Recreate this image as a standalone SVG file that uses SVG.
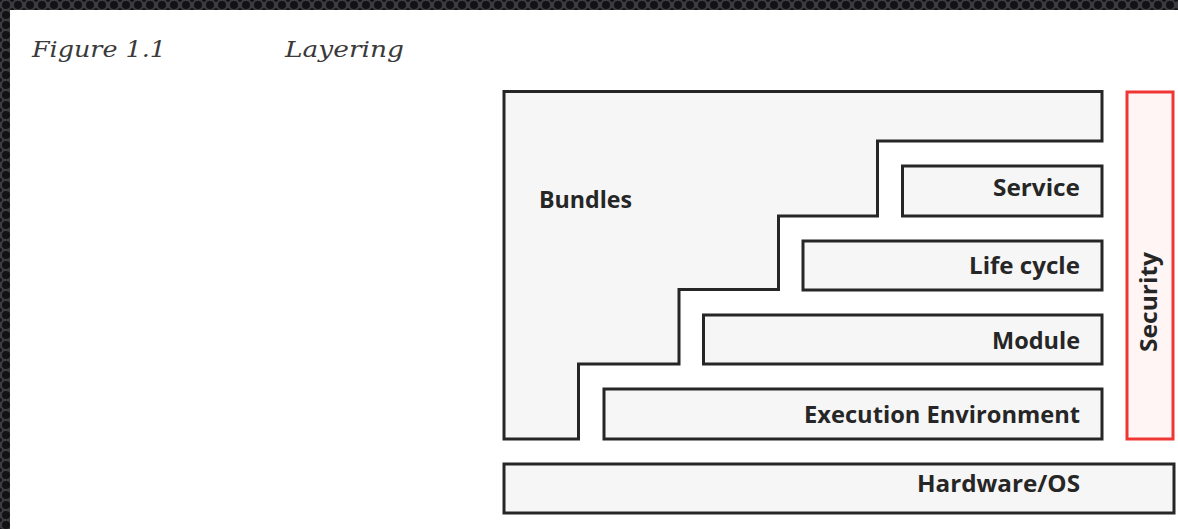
<svg xmlns="http://www.w3.org/2000/svg" width="1178" height="529" viewBox="0 0 1178 529">
  <defs>
    <pattern id="tex" x="0" y="0" width="12" height="10" patternUnits="userSpaceOnUse">
      <rect width="12" height="10" fill="#3c3c40"/>
      <circle cx="6" cy="5" r="4" fill="#121214"/>
      <circle cx="0" cy="0" r="2" fill="#121214"/>
      <circle cx="12" cy="0" r="2" fill="#121214"/>
      <circle cx="0" cy="10" r="2" fill="#121214"/>
      <circle cx="12" cy="10" r="2" fill="#121214"/>
    </pattern>
  </defs>
  <style>
    .layer { fill: #f6f6f6; stroke: #262626; stroke-width: 3; stroke-linejoin: miter; }
    .sec { fill: #fff5f5; stroke: #f03535; stroke-width: 3; }
    .lbl { font-family: "Open Sans", "Liberation Sans", sans-serif; font-weight: bold; font-size: 24px; fill: #262626; }
    .r { text-anchor: end; }
    .title { font-family: "DejaVu Serif", "Liberation Serif", serif; font-style: italic; font-size: 23px; fill: #3a3a3a; }
  </style>
  <rect width="1178" height="529" fill="#ffffff"/>
  <rect x="0" y="0" width="1178" height="10" fill="url(#tex)"/>
  <rect x="0" y="0" width="10" height="529" fill="url(#tex)"/>

  <g id="title">
    <text class="title" x="32" y="57" textLength="134" lengthAdjust="spacingAndGlyphs">Figure 1.1</text>
    <text class="title" x="285" y="57" textLength="119" lengthAdjust="spacingAndGlyphs">Layering</text>
  </g>

  <g id="bundles">
    <path class="layer" d="M504,91.5 H1102 V141 H877.5 V216 H778.5 V289.5 H679 V364 H578.5 V439 H504 Z"/>
    <text class="lbl" x="539" y="208" textLength="93" lengthAdjust="spacingAndGlyphs">Bundles</text>
  </g>

  <g id="service">
    <rect class="layer" x="902.5" y="166" width="199.5" height="50"/>
    <text class="lbl r" x="1080" y="196" textLength="87" lengthAdjust="spacingAndGlyphs">Service</text>
  </g>

  <g id="lifecycle">
    <rect class="layer" x="803" y="241" width="299" height="49"/>
    <text class="lbl r" x="1080" y="274" textLength="111" lengthAdjust="spacingAndGlyphs">Life cycle</text>
  </g>

  <g id="module">
    <rect class="layer" x="703.5" y="315" width="398.5" height="49"/>
    <text class="lbl r" x="1080" y="349" textLength="88" lengthAdjust="spacingAndGlyphs">Module</text>
  </g>

  <g id="execution">
    <rect class="layer" x="604" y="389" width="498" height="50"/>
    <text class="lbl r" x="1080" y="423" textLength="276" lengthAdjust="spacingAndGlyphs">Execution Environment</text>
  </g>

  <g id="hardware">
    <rect class="layer" x="504" y="464" width="670" height="49"/>
    <text class="lbl r" x="1080" y="492" textLength="163" lengthAdjust="spacingAndGlyphs">Hardware/OS</text>
  </g>

  <g id="security">
    <rect class="sec" x="1127" y="92" width="46" height="347"/>
    <text class="lbl" x="0" y="0" text-anchor="middle" transform="translate(1157,302) rotate(-90)" textLength="100" lengthAdjust="spacingAndGlyphs">Security</text>
  </g>

  <g id="connectors"/>
</svg>
